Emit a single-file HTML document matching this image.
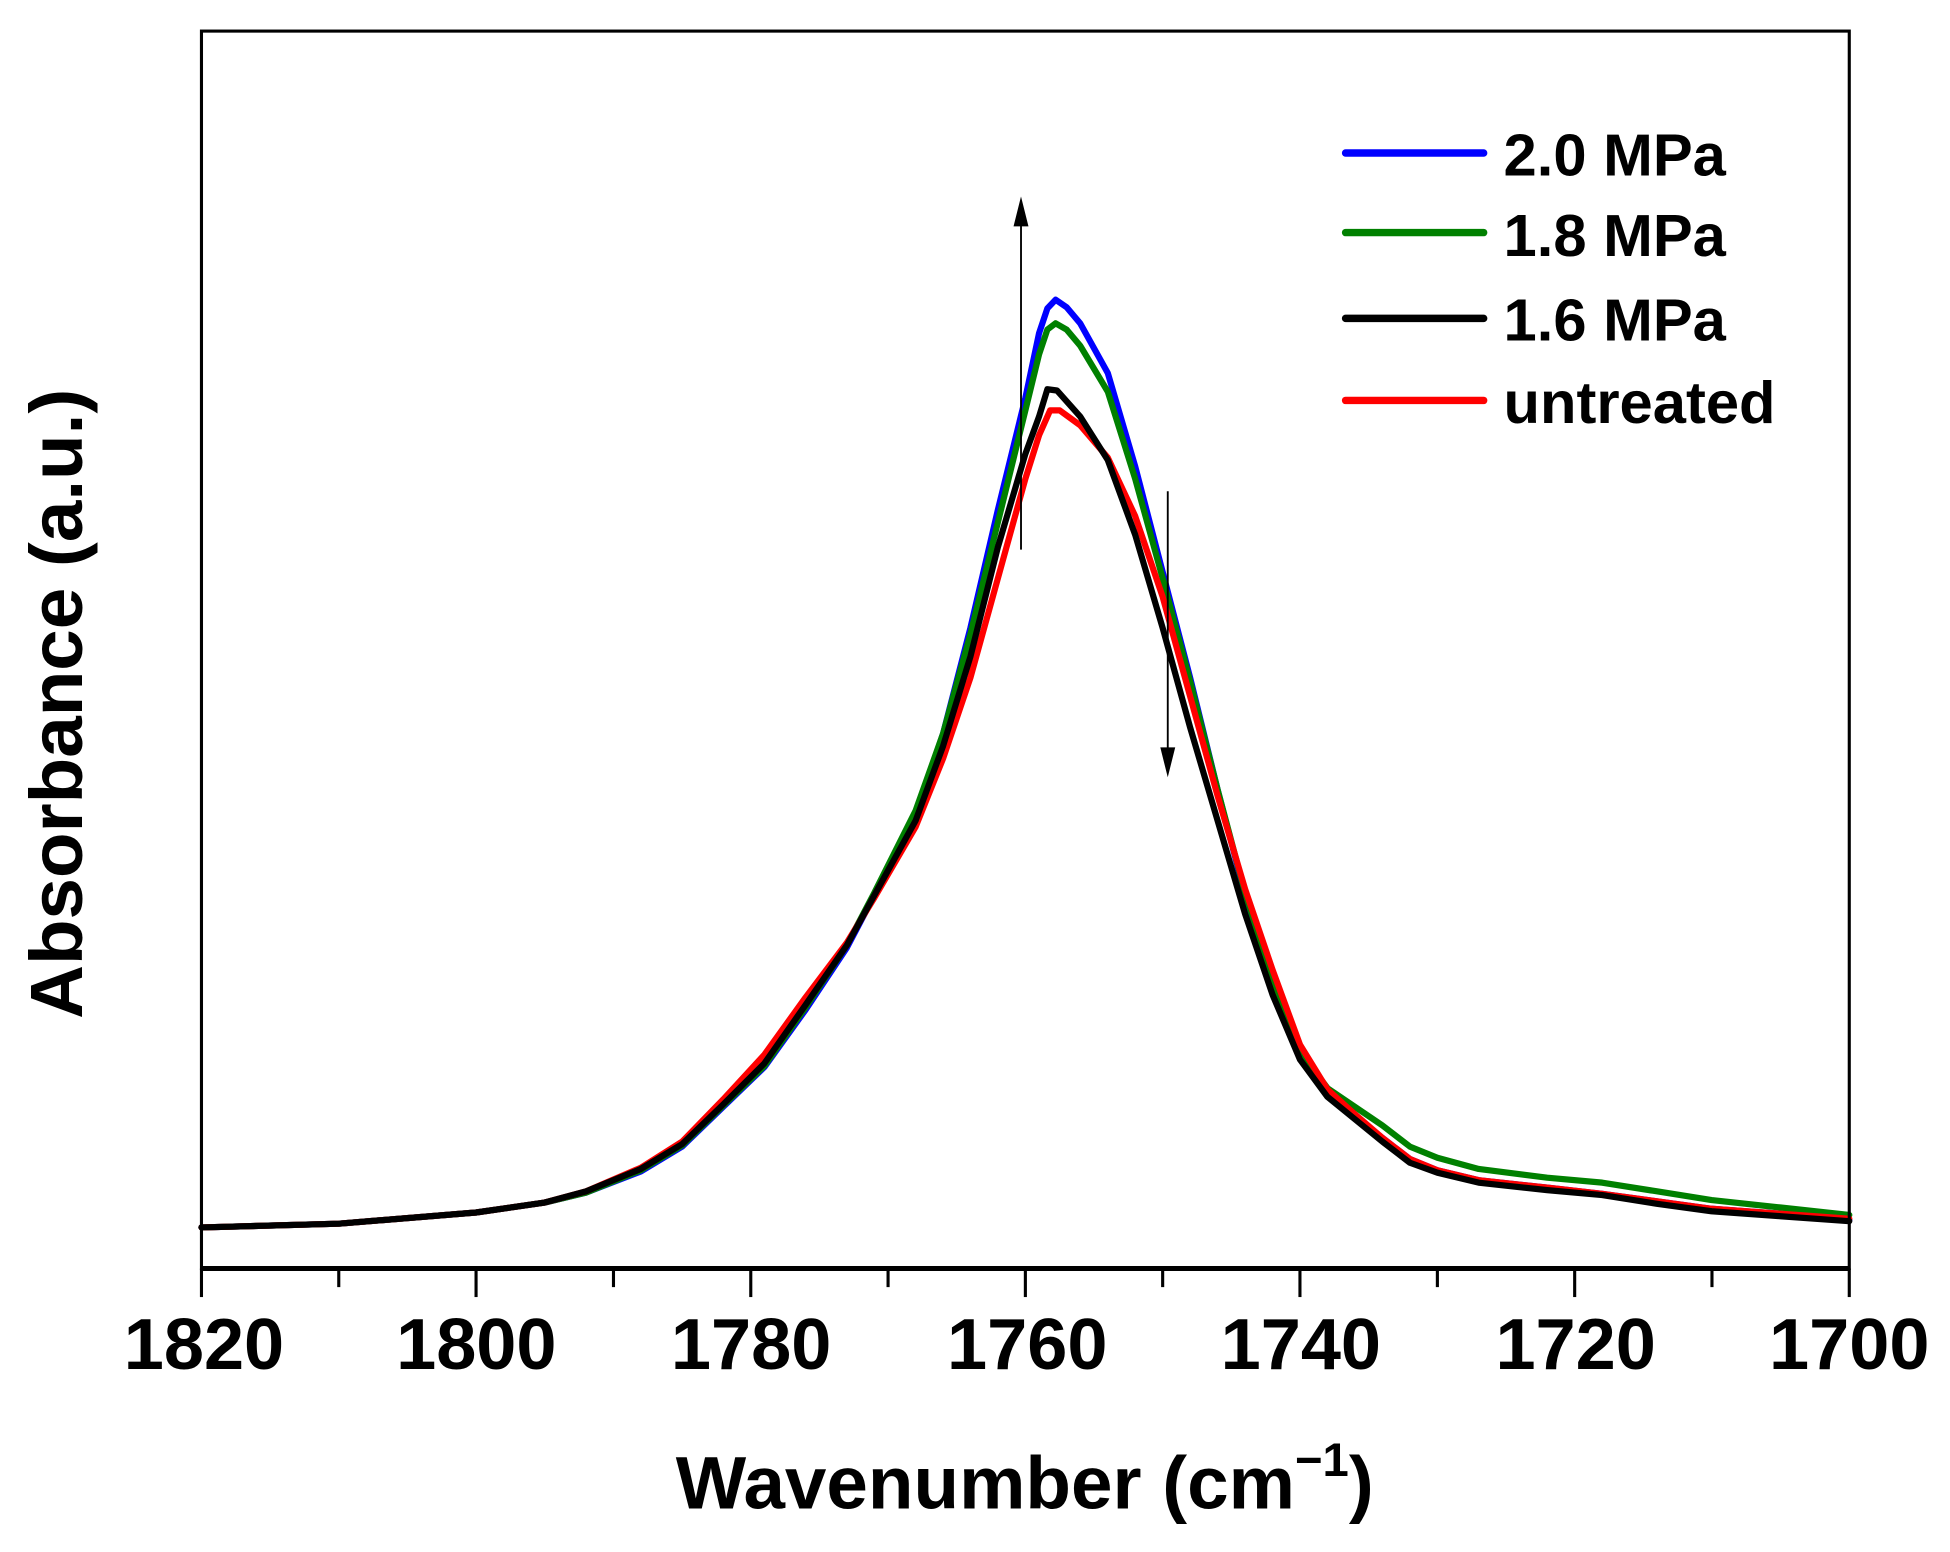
<!DOCTYPE html>
<html><head><meta charset="utf-8"><style>html,body{margin:0;padding:0;background:#fff}svg{display:block}</style></head>
<body>
<svg width="1950" height="1552" viewBox="0 0 1568 1248" preserveAspectRatio="none" xmlns="http://www.w3.org/2000/svg" font-family="Liberation Sans, Arial, sans-serif" font-weight="bold">
<rect width="1568" height="1248" fill="#fff"/>
<g fill="none" stroke-width="5" stroke-linejoin="round" stroke-linecap="round">
<polyline stroke="#0000ff" points="162,987 272.4,984 382.8,975 438,967 471.2,959 515.3,942 548.5,922 581.6,890 614.7,858 647.8,812 681,762 703,720 736.2,655 758.3,590 780.3,505 802.4,410 824.5,320 835.5,268 842.2,248 848.8,241 857.6,247 868.6,260 890.8,300 912.8,375 934.9,460 957,545 979.1,635 1001.2,720 1023.3,790 1045.3,848 1067.4,880 1089.5,897 1111.6,915 1133.7,932 1155.8,941 1189,949 1244.1,955 1288.3,960 1332.4,966 1376.3,972 1431.8,976 1487,981"/>
<polyline stroke="#008000" points="162,987 272.4,984 382.8,975 438,967 471.2,959 515.3,941 548.5,921 581.6,889 614.7,857 647.8,810 681,760 703,718 736.2,652 758.3,590 780.3,510 802.4,420 824.5,330 835.5,285 842.2,265 848.8,260 857.6,265 868.6,278 890.8,315 912.8,385 934.9,465 957,548 979.1,635 1001.2,718 1023.3,788 1045.3,845 1067.4,875 1089.5,890 1111.6,905 1133.7,922 1155.8,931 1189,940 1244.1,947 1288.3,951 1332.4,958 1376.3,965 1431.8,971 1487,977"/>
<polyline stroke="#ff0000" points="162,987 272.4,984 382.8,975 438,967 471.2,958 515.3,939 548.5,918 581.6,884 614.7,848 647.8,802 681,758 703,722 736.2,665 758.3,610 780.3,545 802.4,465 824.5,385 835.5,350 844.4,330 852.1,330 868.6,342 890.8,368 912.8,415 934.9,480 957,560 979.1,640 1001.2,715 1023.3,780 1045.3,840 1067.4,876 1089.5,896 1111.6,915 1133.7,932 1155.8,941 1189,949 1244.1,955 1288.3,960 1332.4,966 1376.3,972 1431.8,976 1487,980"/>
<polyline stroke="#000000" points="162,987 272.4,984 382.8,975 438,967 471.2,958 515.3,940 548.5,920 581.6,888 614.7,855 647.8,808 681,760 703,720 736.2,660 758.3,600 780.3,528 802.4,440 824.5,365 835.5,335 842.2,313 849.9,314 868.6,335 890.8,370 912.8,430 934.9,505 957,585 979.1,660 1001.2,735 1023.3,800 1045.3,852 1067.4,882 1089.5,900 1111.6,918 1133.7,935 1155.8,943 1189,951 1244.1,957 1288.3,961 1332.4,968 1376.3,974 1431.8,978 1487,982"/>
</g>
<rect x="162" y="25" width="1325" height="995" fill="none" stroke="#000" stroke-width="2.5"/>
<line x1="162" y1="1020" x2="1487" y2="1020" stroke="#000" stroke-width="4"/>
<g stroke="#000" stroke-width="2.5">
<line x1="162" y1="1020" x2="162" y2="1043"/><line x1="272.4" y1="1020" x2="272.4" y2="1035"/>
<line x1="382.8" y1="1020" x2="382.8" y2="1043"/><line x1="493.3" y1="1020" x2="493.3" y2="1035"/>
<line x1="603.7" y1="1020" x2="603.7" y2="1043"/><line x1="714.1" y1="1020" x2="714.1" y2="1035"/>
<line x1="824.5" y1="1020" x2="824.5" y2="1043"/><line x1="934.9" y1="1020" x2="934.9" y2="1035"/>
<line x1="1045.3" y1="1020" x2="1045.3" y2="1043"/><line x1="1155.8" y1="1020" x2="1155.8" y2="1035"/>
<line x1="1266.2" y1="1020" x2="1266.2" y2="1043"/><line x1="1376.6" y1="1020" x2="1376.6" y2="1035"/>
<line x1="1487" y1="1020" x2="1487" y2="1043"/>
</g>
<g font-size="58" text-anchor="middle" fill="#000">
<text x="164" y="1101">1820</text><text x="383" y="1101">1800</text><text x="604" y="1101">1780</text><text x="826" y="1101">1760</text><text x="1046" y="1101">1740</text><text x="1267" y="1101">1720</text><text x="1487" y="1101">1700</text>
</g>
<text x="824" y="1213" font-size="60" text-anchor="middle">Wavenumber (cm<tspan font-size="38" dy="-26">−1</tspan><tspan dy="26">)</tspan></text>
<text transform="translate(66,566) rotate(-90)" font-size="60" text-anchor="middle">Absorbance (a.u.)</text>
<g stroke-width="6" stroke-linecap="round">
<line x1="1082" y1="123" x2="1193" y2="123" stroke="#0000ff"/>
<line x1="1082" y1="187" x2="1193" y2="187" stroke="#008000"/>
<line x1="1082" y1="256" x2="1193" y2="256" stroke="#000"/>
<line x1="1082" y1="322" x2="1193" y2="322" stroke="#ff0000"/>
</g>
<g font-size="48" fill="#000">
<text x="1209" y="141">2.0 MPa</text><text x="1209" y="206">1.8 MPa</text><text x="1209" y="274">1.6 MPa</text><text x="1209" y="340">untreated</text>
</g>
<line x1="821" y1="442" x2="821" y2="175" stroke="#000" stroke-width="1.5"/>
<polygon points="821,158 815,182 827,182" fill="#000"/>
<line x1="939" y1="395" x2="939" y2="608" stroke="#000" stroke-width="1.5"/>
<polygon points="939,625 933,601 945,601" fill="#000"/>
</svg>
</body></html>
